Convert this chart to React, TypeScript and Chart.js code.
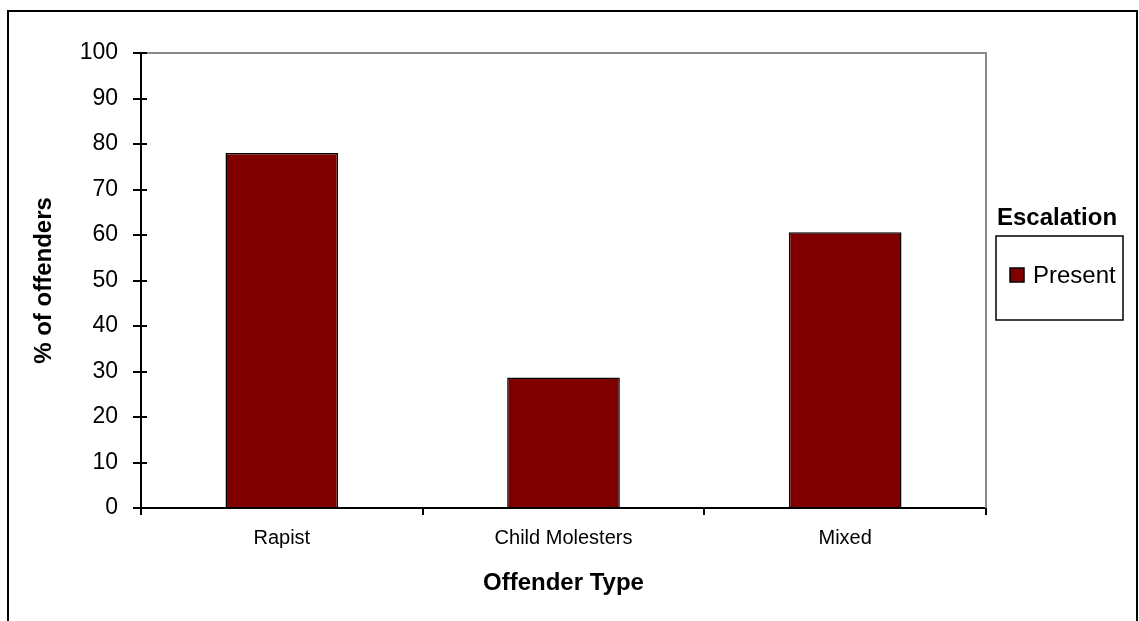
import React, { useEffect, useRef } from "react";
import { Chart, registerables } from "chart.js";

Chart.register(...registerables);

const categories = ["Rapist", "Child Molesters", "Mixed"];
const presentValues = [78, 28.7, 60.6];
const seriesLabel = "Present";
const legendTitle = "Escalation";
const yTitle = "% of offenders";
const xTitle = "Offender Type";
const yMin = 0;
const yMax = 100;
const yStep = 10;

const FONT = "'Liberation Sans', Arial, sans-serif";
const BAR_COLOR = "#800000";

const framePlugin = {
  id: "frameAndTicks",
  beforeDatasetsDraw(chart: any) {
    const { ctx, chartArea } = chart;
    const { left, right, top, bottom } = chartArea;
    ctx.save();
    ctx.strokeStyle = "#8a8a8a";
    ctx.lineWidth = 2;
    ctx.beginPath();
    ctx.moveTo(left, top);
    ctx.lineTo(right, top);
    ctx.lineTo(right, bottom);
    ctx.stroke();
    // tick marks crossing into the plot area
    const yScale = chart.scales.y;
    ctx.strokeStyle = "#000";
    ctx.lineWidth = 2;
    yScale.ticks.forEach((t: any) => {
      const py = Math.round(yScale.getPixelForValue(t.value));
      ctx.beginPath();
      ctx.moveTo(left, py);
      ctx.lineTo(left + 6, py);
      ctx.stroke();
    });
    ctx.restore();
  },
};

const legendPlugin = {
  id: "boxLegend",
  afterDraw(chart: any) {
    const { ctx } = chart;
    const ds = chart.data.datasets[0];
    ctx.save();
    ctx.fillStyle = "#000";
    ctx.font = `bold 24px ${FONT}`;
    ctx.textBaseline = "middle";
    ctx.textAlign = "left";
    ctx.fillText(legendTitle, 997, 218);
    ctx.lineWidth = 1.5;
    ctx.strokeStyle = "#000";
    ctx.strokeRect(996, 236, 127, 84);
    ctx.fillStyle = ds.backgroundColor;
    ctx.fillRect(1010, 268, 14, 14);
    ctx.lineWidth = 1.5;
    ctx.strokeRect(1010, 268, 14, 14);
    ctx.fillStyle = "#000";
    ctx.font = `24px ${FONT}`;
    ctx.fillText(ds.label, 1033, 276);
    ctx.restore();
  },
};

export default function App() {
  const canvasRef = useRef<HTMLCanvasElement | null>(null);

  useEffect(() => {
    if (!canvasRef.current) return;
    const chart = new Chart(canvasRef.current, {
      type: "bar",
      data: {
        labels: categories,
        datasets: [
          {
            label: seriesLabel,
            data: presentValues,
            backgroundColor: BAR_COLOR,
            borderColor: "#000",
            borderWidth: 1.5,
            barPercentage: 0.4,
            categoryPercentage: 1,
          },
        ],
      },
      options: {
        responsive: false,
        animation: false,
        layout: { padding: { left: 0, top: 53, right: 153, bottom: 0 } },
        plugins: {
          legend: { display: false },
          tooltip: { enabled: false },
        },
        scales: {
          x: {
            grid: {
              offset: true,
              drawOnChartArea: false,
              drawTicks: true,
              tickLength: 7,
              color: "#000",
              lineWidth: 2,
            },
            border: { color: "#000", width: 2 },
            ticks: {
              color: "#000",
              font: { family: FONT, size: 20 },
              padding: 11,
              maxRotation: 0,
            },
            title: {
              display: true,
              text: xTitle,
              color: "#000",
              font: { family: FONT, size: 24, weight: "bold" },
              padding: { top: 0, bottom: 23 },
            },
            afterFit(scale: any) {
              scale.height = 113;
            },
          },
          y: {
            min: yMin,
            max: yMax,
            grid: {
              drawOnChartArea: false,
              drawTicks: true,
              tickLength: 8,
              color: "#000",
              lineWidth: 2,
            },
            border: { color: "#000", width: 2 },
            ticks: {
              stepSize: yStep,
              color: "#000",
              font: { family: FONT, size: 23 },
              padding: 15,
            },
            title: {
              display: true,
              text: yTitle,
              color: "#000",
              font: { family: FONT, size: 24, weight: "bold" },
              padding: { top: 30, bottom: 0 },
            },
            afterFit(scale: any) {
              scale.width = 141;
            },
          },
        },
      },
      plugins: [framePlugin, legendPlugin],
    });
    return () => chart.destroy();
  }, []);

  return (
    <div
      style={{
        position: "fixed",
        left: 0,
        top: 0,
        width: 1139,
        height: 621,
        overflow: "hidden",
        background: "#fff",
      }}
    >
      <canvas
        ref={canvasRef}
        width={1139}
        height={621}
        style={{ position: "absolute", left: 0, top: 0 }}
      />
      <div
        style={{
          position: "absolute",
          left: 7,
          top: 10,
          width: 1131,
          height: 700,
          border: "2px solid #000",
          boxSizing: "border-box",
          pointerEvents: "none",
        }}
      />
    </div>
  );
}
